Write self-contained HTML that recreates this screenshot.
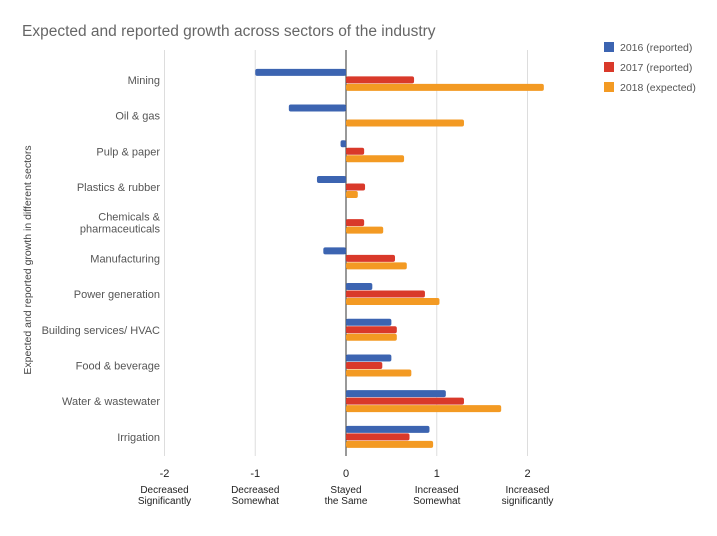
<!DOCTYPE html>
<html><head><meta charset="utf-8"><style>
body{margin:0;background:#fff;font-family:"Liberation Sans",sans-serif}
svg text{font-family:"Liberation Sans",sans-serif}
</style></head><body>
<svg id="c" width="717" height="531">
<text x="22" y="36" font-size="15.5" fill="#666">Expected and reported growth across sectors of the industry</text>
<text transform="translate(31,260) rotate(-90)" text-anchor="middle" font-size="10.5" fill="#444">Expected and reported growth in different sectors</text>
<g id="grid"></g><g id="bars"></g><g id="labels"></g><g id="legend"></g>
</svg>
<script>
const categories=["Mining","Oil & gas","Pulp & paper","Plastics & rubber","Chemicals &|pharmaceuticals","Manufacturing","Power generation","Building services/ HVAC","Food & beverage","Water & wastewater","Irrigation"];
const s2016=[-1.0,-0.63,-0.06,-0.32,0,-0.25,0.29,0.5,0.5,1.1,0.92];
const s2017=[0.75,0,0.2,0.21,0.2,0.54,0.87,0.56,0.4,1.3,0.7];
const s2018=[2.18,1.3,0.64,0.13,0.41,0.67,1.03,0.56,0.72,1.71,0.96];
const seriesNames=["2016 (reported)","2017 (reported)","2018 (expected)"];
const colors=["#3c64b1","#d9392a","#f39a23"];
const ticks=[-2,-1,0,1,2];
const tickSub=[["Decreased","Significantly"],["Decreased","Somewhat"],["Stayed","the Same"],["Increased","Somewhat"],["Increased","significantly"]];
const NS="http://www.w3.org/2000/svg";
const x=v=>346+v*90.75;
const plotTop=62,band=35.7;
const y=i=>plotTop+i*band;
function mk(t,a,p){const e=document.createElementNS(NS,t);for(const k in a)e.setAttribute(k,a[k]);p.appendChild(e);return e;}
const grid=document.getElementById('grid'),bars=document.getElementById('bars'),labels=document.getElementById('labels'),leg=document.getElementById('legend');
ticks.forEach((t,i)=>{
 const l=mk('line',{x1:x(t),x2:x(t),y1:50,y2:456,stroke:t===0?'#333':'#ddd','stroke-width':1},grid);
 
 
 const tx=mk('text',{x:x(t),y:477,'text-anchor':'middle','font-size':11,fill:'#222'},labels);tx.textContent=t;
 
 
 tickSub[i].forEach((s,j)=>{const e=mk('text',{x:x(t),y:493+j*11,'text-anchor':'middle','font-size':10,fill:'#222'},labels);e.textContent=s;
 
 });
});
const series=[s2016,s2017,s2018];
categories.forEach((c,i)=>{
 const cy=y(i)+band/2;
 const parts=c.split('|');
 parts.forEach((p,j)=>{const e=mk('text',{x:160,y:cy+4+(j-(parts.length-1)/2)*12,'text-anchor':'end','font-size':11,fill:'#555'},labels);e.textContent=p;
 
 });
 series.forEach((s,k)=>{
  const v=s[i];if(v===0)return;
  const by=cy-11+k*7.5;
  const r=mk('rect',{x:Math.min(x(0),x(v)),y:by,width:Math.abs(x(v)-x(0)),height:7,fill:colors[k],rx:2},bars);
  
  
 });
});
seriesNames.forEach((n,k)=>{
 const g=mk('g',{},leg);
 
 
 mk('rect',{x:604,y:42+k*20,width:10,height:10,fill:colors[k]},g);
 const t=mk('text',{x:620,y:51+k*20,'font-size':10.5,fill:'#555'},g);t.textContent=n;
});
</script>
</body></html>
